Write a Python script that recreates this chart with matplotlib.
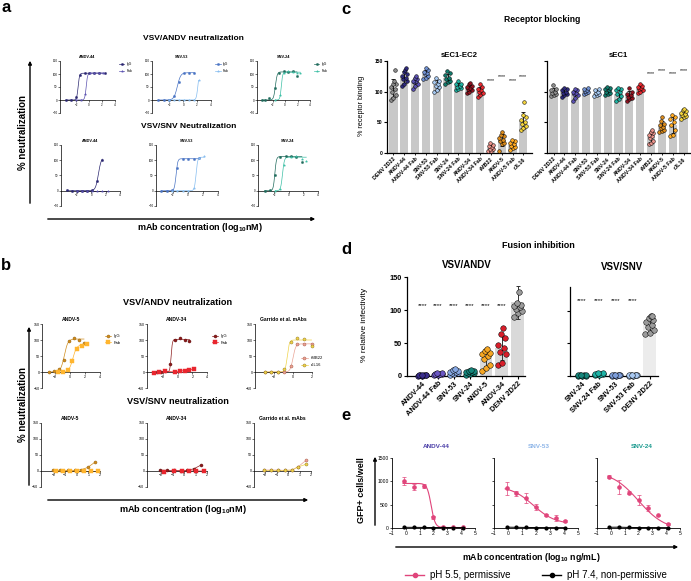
import matplotlib
matplotlib.use("Agg")
import matplotlib.pyplot as plt
from matplotlib.lines import Line2D
from matplotlib.patches import FancyArrowPatch
import numpy as np

plt.rcParams['font.family'] = ['Liberation Sans', 'DejaVu Sans']
plt.rcParams['mathtext.fontset'] = 'custom'
plt.rcParams['mathtext.rm'] = 'Liberation Sans'
plt.rcParams['mathtext.bf'] = 'Liberation Sans:bold'
plt.rcParams['mathtext.default'] = 'bf'

# ---------------- panel a : x = log10 nM, y = % neutralization ----------------
# fit = [bottom, top, logEC50, hill] of the curve drawn through the points
a1_andv44_igg_x = [-3.6, -2.8, -2.0, -1.4, -0.6, 0.05, 0.8, 1.5, 2.4]
a1_andv44_igg_y = [0, 0, 12, 97, 103, 103, 104, 103, 104]
a1_andv44_igg_fit = [0, 103, -1.7, 4]
a1_andv44_fab_x = [-2.0, -1.3, -0.6, 0.1, 0.8, 1.5, 2.2]
a1_andv44_fab_y = [0, 0, 22, 103, 104, 103, 104]
a1_andv44_fab_fit = [0, 104, -0.45, 4]

a1_snv53_igg_x = [-3.6, -2.7, -2.0, -1.4, -0.65, 0.1, 0.9, 1.6]
a1_snv53_igg_y = [0, 0, 0, 15, 68, 103, 105, 104]
a1_snv53_igg_fit = [0, 105, -0.85, 1.8]
a1_snv53_fab_x = [-2.0, -1.3, -0.6, 0.1, 0.8, 1.5, 2.2]
a1_snv53_fab_y = [0, 0, 0, 0, 0, 1, 76]
a1_snv53_fab_fit = [0, 105, 2.1, 4]

a1_snv24_igg_x = [-3.7, -3.2, -2.5, -1.6, -0.9, -0.2, 0.5, 1.2, 1.9]
a1_snv24_igg_y = [0, 0, 8, 45, 105, 110, 108, 110, 92]
a1_snv24_igg_fit = [0, 108, -1.55, 3]
a1_snv24_fab_x = [-1.6, -0.8, -0.2, 0.5, 1.2, 1.9, 2.4]
a1_snv24_fab_y = [0, 18, 105, 110, 108, 105, 103]
a1_snv24_fab_fit = [0, 107, -0.6, 4]

a2_andv44_igg_x = [-3.4, -2.7, -2.0, -1.3, -0.6, 0.15, 0.85, 1.55]
a2_andv44_igg_y = [2, 0, 0, 0, 0, 3, 33, 100]
a2_andv44_igg_fit = [0, 110, 1.0, 2.2]
a2_andv44_fab_x = [-2.0, -1.3, -0.6, 0.15, 0.85, 1.55, 2.3]
a2_andv44_fab_y = [0, 0, 0, 0, 0, 0, 0]

a2_snv53_igg_x = [-3.5, -2.8, -2.1, -1.4, -0.65, 0.05, 0.8, 1.5]
a2_snv53_igg_y = [0, 0, 2, 73, 105, 103, 103, 108]
a2_snv53_igg_fit = [0, 105, -1.55, 4]
a2_snv53_fab_x = [-2.1, -1.4, -0.65, 0.05, 0.8, 1.5, 2.2]
a2_snv53_fab_y = [0, 0, 0, 0, 10, 108, 113]
a2_snv53_fab_fit = [0, 110, 1.1, 4]

a2_snv24_igg_x = [-3.3, -2.5, -1.85, -1.15, -0.4, 0.35, 1.05, 1.8]
a2_snv24_igg_y = [0, 3, 52, 110, 113, 115, 112, 93]
a2_snv24_igg_fit = [0, 112, -1.9, 4]
a2_snv24_fab_x = [-1.85, -1.15, -0.6, 0.35, 1.05, 1.8, 2.4]
a2_snv24_fab_y = [0, 5, 85, 110, 113, 105, 97]
a2_snv24_fab_fit = [0, 110, -0.85, 3.5]

# ---------------- panel b ----------------
b1_andv5_igg_x = [-2.9, -2.2, -1.55, -0.9, -0.2, 0.45, 1.2, 1.85]
b1_andv5_igg_y = [0, 3, 10, 36, 98, 107, 100, 91]
b1_andv5_igg_fit = [0, 103, -0.8, 1.8]
b1_andv5_fab_x = [-1.7, -1.0, -0.35, 0.2, 0.9, 1.55, 2.3]
b1_andv5_fab_y = [0, 0, 5, 33, 73, 80, 86]
b1_andv5_fab_fit = [0, 85, 0.35, 1.7]

b1_andv34_igg_x = [-2.9, -2.3, -1.7, -1.0, -0.35, 0.27, 0.93, 1.6]
b1_andv34_igg_y = [0, 0, 3, 25, 100, 106, 101, 96]
b1_andv34_igg_fit = [0, 102, -0.9, 5]
b1_andv34_fab_x = [-3.2, -2.5, -1.7, -0.35, 0.27, 0.93, 1.6, 2.2]
b1_andv34_fab_y = [-3, 0, 2, 0, 3, 4, 7, 9]

b1_garrido_x = [-3.0, -2.3, -1.6, -0.9, -0.25, 0.43, 1.15, 1.95]
b1_rmb22_y = [0, 0, 0, 0, 18, 87, 88, 86]
b1_rmb22_fit = [0, 88, 0.0, 3]
b1_rjl16_y = [0, 0, 0, 8, 94, 107, 103, 80]
b1_rjl16_fit = [0, 100, -0.6, 4]

b2_andv5_igg_x = [-2.1, -1.45, -0.8, -0.2, 0.37, 0.93, 1.58]
b2_andv5_igg_y = [3, 2, 2, 2, 4, 11, 28]
b2_andv5_fab_x = [-1.8, -1.2, -0.6, 0.0, 0.6, 1.2, 1.8]
b2_andv5_fab_y = [0, 0, 0, 0, 0, 0, 0]

b2_andv34_igg_x = [-2.1, -1.5, -0.9, -0.3, 0.25, 0.85, 1.45]
b2_andv34_igg_y = [3, 2, 2, 1, 2, 7, 18]
b2_andv34_fab_x = [-1.8, -0.9, -0.15, 0.4, 1.0, 1.7]
b2_andv34_fab_y = [-2, 0, 0, 0, 0, 0]

b2_garrido_x = [-2.1, -1.5, -0.9, -0.3, 0.33, 0.9, 1.55]
b2_rmb22_y = [3, 3, 3, 2, 3, 14, 33]
b2_rjl16_y = [2, 2, 2, 2, 3, 13, 21]

# ---------------- panel c : % receptor binding ----------------
c_names = ['DENV 2D22', 'ANDV-44', 'ANDV-44 Fab', 'SNV-53', 'SNV-53 Fab', 'SNV-24',
           'SNV-24 Fab', 'ANDV-34', 'ANDV-34 Fab', 'rMB22', 'ANDV-5', 'ANDV-5 Fab', 'rJL16']
c_colors = ['#8c8c8c', '#2e2a7c', '#5a4fb0', '#6f8fd0', '#a6c8f0', '#127a6c', '#1fb0a0',
            '#8e1420', '#e62a30', '#e8928a', '#d98a1c', '#ffaa22', '#f2d23c']
c_ec12 = [[135, 118, 112, 108, 105, 100, 95, 90, 87, 112],
          [138, 135, 132, 128, 125, 122, 120, 117, 113, 110],
          [126, 122, 120, 118, 117, 115, 113, 110, 105],
          [138, 135, 132, 130, 128, 125, 123, 120],
          [122, 118, 115, 112, 110, 107, 103, 100],
          [133, 130, 127, 123, 120, 117, 115, 112],
          [117, 113, 112, 110, 108, 106, 104, 103],
          [114, 112, 110, 108, 106, 104, 102, 100, 98],
          [112, 108, 104, 102, 100, 98, 95, 92],
          [16, 13, 11, 9, 7, 6, 4, 3],
          [34, 30, 27, 24, 22, 20, 17, 14, 3],
          [22, 20, 17, 14, 12, 10, 8, 5],
          [83, 62, 58, 53, 50, 47, 44, 40, 37]]
c_ec1 = [[111, 105, 102, 100, 98, 97, 95, 93],
         [106, 104, 102, 100, 98, 96, 94, 92],
         [105, 102, 100, 98, 96, 94, 90, 85],
         [106, 104, 102, 101, 100, 98, 97],
         [104, 102, 100, 98, 97, 95, 93],
         [108, 106, 104, 102, 100, 98, 96, 95],
         [106, 104, 102, 100, 96, 93, 88, 85],
         [106, 100, 97, 94, 92, 90, 88, 85],
         [113, 110, 108, 106, 104, 102, 100, 98],
         [38, 34, 32, 30, 28, 24, 20, 16, 14],
         [58, 52, 48, 45, 43, 40, 38, 36, 34],
         [62, 58, 55, 50, 46, 38, 30, 28],
         [72, 70, 68, 66, 64, 62, 60, 58, 56]]
c_star_idx = [9, 10, 11, 12]
c_star_ec12 = [118, 124, 118, 124]
c_star_ec1 = [129, 135, 129, 135]

# ---------------- panel d : % relative infectivity ----------------
d_andv_names = ['ANDV-44', 'ANDV-44 Fab', 'SNV-53', 'SNV-24', 'ANDV-5', 'ANDV-34', 'DENV 2D22']
d_andv_colors = ['#3a2e8c', '#6b58c4', '#86a8e4', '#15857a', '#f5a623', '#d81e2a', '#9b9b9b']
d_andv_vals = [[2, 1, 1, 0, 0, 1, 2, 1],
               [4, 3, 3, 2, 3, 4, 2, 3],
               [11, 9, 7, 6, 5, 4, 3, 2, 6],
               [9, 8, 7, 6, 5, 4, 3, 2, 6],
               [41, 38, 35, 33, 30, 26, 17, 12, 8],
               [72, 63, 58, 47, 42, 37, 33, 20, 16],
               [175, 127, 110, 108, 106, 104, 101, 98, 95, 90]]
d_snv_names = ['SNV-24', 'SNV-24 Fab', 'SNV-53', 'SNV-53 Fab', 'DENV 2D22']
d_snv_colors = ['#15857a', '#1fb3a6', '#7e9fdc', '#a9c9f2', '#9b9b9b']
d_snv_vals = [[2, 1, 1, 0, 0, 1, 1, 0],
              [4, 3, 3, 3, 2, 4, 3, 2],
              [2, 1, 1, 0, 1, 2, 1, 0],
              [2, 1, 1, 0, 1, 1, 0, 1],
              [92, 91, 88, 85, 82, 78, 75, 70, 65, 64]]
d_andv_star = 106
d_snv_star = 116

# ---------------- panel e : GFP+ cells/well vs log10 ng/mL ----------------
e_x = [-0.1, 0.6, 1.3, 2.0, 2.7, 3.4, 4.1]
e_andv44_y = [1010, 880, 900, 230, 30, 20, 15]
e_andv44_err = [80, 70, 50, 30, 10, 8, 5]
e_andv44_fit = [10, 955, 1.83, -3]
e_snv53_y = [850, 740, 640, 450, 280, 220, 150]
e_snv53_err = [140, 50, 100, 70, 20, 60, 20]
e_snv53_fit = [80, 900, 1.8, -0.55]
e_snv24_y = [1100, 870, 760, 600, 430, 270, 90]
e_snv24_err = [30, 150, 40, 100, 70, 15, 15]
e_snv24_fit = [-50, 1220, 2.0, -0.45]
e_ph74_andv44 = [15, 14, 12, 10, 10, 9, 8]
e_ph74_snv53 = [18, 15, 12, 10, 9, 8, 8]
e_ph74_snv24 = [16, 18, 12, 10, 10, 9, 8]

PINK = '#e0457b'

W, H = 691, 581
fig = plt.figure(figsize=(W / 100, H / 100), dpi=100)


def box(x0, y0, x1, y1):
    return fig.add_axes([x0 / W, 1 - y1 / H, (x1 - x0) / W, (y1 - y0) / H])


def txt(x, y, s, size, **kw):
    kw.setdefault('ha', 'center')
    kw.setdefault('va', 'center')
    fig.text(x / W, 1 - y / H, s, fontsize=size, **kw)


def arrow(x0, y0, x1, y1, lw=1.0):
    fig.add_artist(FancyArrowPatch((x0 / W, 1 - y0 / H), (x1 / W, 1 - y1 / H),
                                   transform=fig.transFigure, arrowstyle='-|>',
                                   mutation_scale=5, lw=lw, color='black'))


def logistic(x, bottom, top, ec50, hill):
    return bottom + (top - bottom) / (1 + 10 ** ((ec50 - x) * hill))


def neut_plot(px, title, series, xlim, xticks, tsize, ticksize, ms, leg=None, legsize=2.4):
    ax = box(*px)
    ax.patch.set_visible(False)
    for lab, x, y, col, edge, mk, fit in series:
        x = np.asarray(x, float)
        if fit is None:
            ax.plot(x, y, color=col, lw=0.5, zorder=2)
        else:
            xs = np.linspace(x.min(), x.max(), 200)
            ax.plot(xs, logistic(xs, *fit), color=col, lw=0.5, zorder=2)
        ax.plot(x, y, ls='none', marker=mk, ms=ms, mfc=col, mec=edge, mew=0.3,
                zorder=3, clip_on=False)
    ax.set_xlim(xlim)
    ax.set_ylim(-50, 150)
    ax.set_xticks(xticks)
    ax.set_yticks([-50, 0, 50, 100, 150])
    ax.spines['bottom'].set_position(('data', 0))
    ax.spines[['top', 'right']].set_visible(False)
    for sp in ax.spines.values():
        sp.set_linewidth(0.5)
    ax.tick_params(labelsize=ticksize, width=0.4, length=1.2, pad=0.6)
    ax.set_title(title, fontsize=tsize, fontweight='bold', pad=2)
    if leg is not None:
        handles = [Line2D([], [], color=s[3], marker=s[5], ms=ms, mfc=s[3], mec=s[4],
                          mew=0.3, lw=0.5) for s in series]
        ax.legend(handles, [s[0] for s in series], loc='upper left', bbox_to_anchor=leg,
                  fontsize=legsize, frameon=False, handlelength=1.6, handletextpad=0.6,
                  labelspacing=0.7, borderaxespad=0)
    return ax


JIT = [-0.3, 0.0, 0.3, -0.15, 0.15, -0.28, 0.28, -0.05, 0.08, 0.2]


def swarm_bars(ax, groups, colors, bar_colors, ms, width, elw, ecol):
    top = ax.get_ylim()[1]
    for i, vals in enumerate(groups):
        v = np.sort(np.asarray(vals, float))
        m, sd = v.mean(), v.std(ddof=1)
        ax.bar(i, m, width=width, color=bar_colors[i], zorder=1)
        ax.errorbar(i, m, yerr=sd, fmt='none', ecolor=ecol, elinewidth=elw,
                    capsize=1.5, capthick=elw, zorder=2, clip_on=False)
        off = np.resize(JIT, len(v)) * width
        keep = v <= top
        ax.scatter(i + off[keep], v[keep], s=ms, color=colors[i], edgecolors='black',
                   linewidths=0.35, zorder=3, clip_on=False)


# ================= panel a =================
txt(1, 8, 'a', 12, fontweight='bold', ha='left')
txt(193, 39, 'VSV/ANDV neutralization', 6, fontweight='bold')
txt(189, 126, 'VSV/SNV Neutralization', 6, fontweight='bold')
txt(23, 132, '% neutralization', 7, fontweight='bold', rotation=90)
txt(200, 228, 'mAb concentration (log$_{10}$nM)', 6.5, fontweight='bold')
arrow(30, 206, 30, 58)
arrow(45, 219, 318, 219)

ANDV44_C = ('#2a2670', '#5b52b0')
SNV53_C = ('#4a74c4', '#86bdf0')
SNV24_C = ('#1f6b5c', '#3cbfa5')
sa = dict(tsize=2.8, ticksize=2.2, ms=1.6)
neut_plot((60, 61, 115, 113), 'ANDV-44',
          [('IgG', a1_andv44_igg_x, a1_andv44_igg_y, ANDV44_C[0], ANDV44_C[0], 'o', a1_andv44_igg_fit),
           ('Fab', a1_andv44_fab_x, a1_andv44_fab_y, ANDV44_C[1], ANDV44_C[1], '*', a1_andv44_fab_fit)],
          (-4.5, 4), [-2, 0, 2, 4], leg=(1.05, 1.0), **sa)
neut_plot((152, 61, 211, 113), 'SNV-53',
          [('IgG', a1_snv53_igg_x, a1_snv53_igg_y, SNV53_C[0], SNV53_C[0], 'o', a1_snv53_igg_fit),
           ('Fab', a1_snv53_fab_x, a1_snv53_fab_y, SNV53_C[1], SNV53_C[1], '*', a1_snv53_fab_fit)],
          (-4.5, 4), [-2, 0, 2, 4], leg=(1.05, 1.0), **sa)
neut_plot((257, 61, 310, 113), 'SNV-24',
          [('IgG', a1_snv24_igg_x, a1_snv24_igg_y, SNV24_C[0], SNV24_C[0], 'o', a1_snv24_igg_fit),
           ('Fab', a1_snv24_fab_x, a1_snv24_fab_y, SNV24_C[1], SNV24_C[1], '*', a1_snv24_fab_fit)],
          (-4.5, 4), [-2, 0, 2, 4], leg=(1.05, 1.0), **sa)
neut_plot((61, 145, 120, 206), 'ANDV-44',
          [('IgG', a2_andv44_igg_x, a2_andv44_igg_y, ANDV44_C[0], ANDV44_C[0], 'o', a2_andv44_igg_fit),
           ('Fab', a2_andv44_fab_x, a2_andv44_fab_y, ANDV44_C[1], ANDV44_C[1], '*', None)],
          (-4.2, 4), [-2, 0, 2, 4], **sa)
neut_plot((156, 145, 218, 206), 'SNV-53',
          [('IgG', a2_snv53_igg_x, a2_snv53_igg_y, SNV53_C[0], SNV53_C[0], 'o', a2_snv53_igg_fit),
           ('Fab', a2_snv53_fab_x, a2_snv53_fab_y, SNV53_C[1], SNV53_C[1], '*', a2_snv53_fab_fit)],
          (-4.2, 4), [-2, 0, 2, 4], **sa)
neut_plot((258, 145, 318, 206), 'SNV-24',
          [('IgG', a2_snv24_igg_x, a2_snv24_igg_y, SNV24_C[0], SNV24_C[0], 'o', a2_snv24_igg_fit),
           ('Fab', a2_snv24_fab_x, a2_snv24_fab_y, SNV24_C[1], SNV24_C[1], '*', a2_snv24_fab_fit)],
          (-4.2, 4), [-2, 0, 2, 4], **sa)

# ================= panel b =================
txt(1, 266, 'b', 12, fontweight='bold', ha='left')
txt(178, 303, 'VSV/ANDV neutralization', 6.6, fontweight='bold')
txt(178, 401, 'VSV/SNV neutralization', 6.6, fontweight='bold')
txt(23, 404, '% neutralization', 7, fontweight='bold', rotation=90)
txt(183, 509, 'mAb concentration (log$_{10}$nM)', 6.6, fontweight='bold')
arrow(29, 488, 29, 324)
arrow(45, 500, 311, 500)

ANDV5_C = ('#d08c1c', '#ffb52e', '#8a5a10')
ANDV34_C = ('#8c1c1c', '#e8262e', '#5a0c0c')
RMB22_C = ('#eaa394', '#a0503f')
RJL16_C = ('#efd34a', '#8a7020')
sb = dict(tsize=3.6, ticksize=2.6, ms=2.2)
neut_plot((42, 324, 100, 388), 'ANDV-5',
          [('IgG', b1_andv5_igg_x, b1_andv5_igg_y, ANDV5_C[0], ANDV5_C[2], 'o', b1_andv5_igg_fit),
           ('Fab', b1_andv5_fab_x, b1_andv5_fab_y, ANDV5_C[1], ANDV5_C[1], 's', b1_andv5_fab_fit)],
          (-3.8, 4), [-2, 0, 2, 4], leg=(1.05, 0.87), legsize=3.0, **sb)
neut_plot((147, 324, 207, 388), 'ANDV-34',
          [('IgG', b1_andv34_igg_x, b1_andv34_igg_y, ANDV34_C[0], ANDV34_C[2], 'o', b1_andv34_igg_fit),
           ('Fab', b1_andv34_fab_x, b1_andv34_fab_y, ANDV34_C[1], ANDV34_C[1], 's', None)],
          (-4.2, 4), [-2, 0, 2, 4], leg=(1.05, 0.87), legsize=3.0, **sb)
neut_plot((255, 324, 312, 388), 'Garrido et al. mAbs',
          [('rMB22', b1_garrido_x, b1_rmb22_y, RMB22_C[0], RMB22_C[1], 'o', b1_rmb22_fit),
           ('rJL16', b1_garrido_x, b1_rjl16_y, RJL16_C[0], RJL16_C[1], 'o', b1_rjl16_fit)],
          (-4, 2), [-2, 0, 2], leg=(0.78, 0.52), legsize=3.0, **sb)
neut_plot((41, 423, 100, 487), 'ANDV-5',
          [('IgG', b2_andv5_igg_x, b2_andv5_igg_y, ANDV5_C[0], ANDV5_C[2], 'o', None),
           ('Fab', b2_andv5_fab_x, b2_andv5_fab_y, ANDV5_C[1], ANDV5_C[1], 's', None)],
          (-3.1, 2), [-2, -1, 0, 1, 2], **sb)
neut_plot((147, 423, 207, 487), 'ANDV-34',
          [('IgG', b2_andv34_igg_x, b2_andv34_igg_y, ANDV34_C[0], ANDV34_C[2], 'o', None),
           ('Fab', b2_andv34_fab_x, b2_andv34_fab_y, ANDV34_C[1], ANDV34_C[1], 's', None)],
          (-3.25, 2), [-2, -1, 0, 1, 2], **sb)
neut_plot((254, 423, 311, 487), 'Garrido et al. mAbs',
          [('rMB22', b2_garrido_x, b2_rmb22_y, RMB22_C[0], RMB22_C[1], 'o', None),
           ('rJL16', b2_garrido_x, b2_rjl16_y, RJL16_C[0], RJL16_C[1], 'o', None)],
          (-3.0, 2), [-2, -1, 0, 1, 2], **sb)

# ================= panel c =================
txt(341, 9, 'c', 12, fontweight='bold', ha='left')
txt(542, 20, 'Receptor blocking', 6.2, fontweight='bold')
txt(362, 106, '% receptor binding', 5.2, rotation=90)

for px, vals, title, xmax, stars, ylabels in [((387, 61, 532, 153), c_ec12, 'sEC1-EC2', 12.8, c_star_ec12, True),
                                             ((547, 61, 690, 153), c_ec1, 'sEC1', 12.6, c_star_ec1, False)]:
    ax = box(*px)
    ax.patch.set_visible(False)
    ax.set_ylim(0, 150)
    ax.set_xlim(-0.6, xmax)
    swarm_bars(ax, vals, c_colors, ['#c8c8c8'] * len(vals), 7, 0.76, 0.6, 'black')
    for i, h in zip(c_star_idx, stars):
        ax.text(i, h, '****', fontsize=3.8, ha='center', va='center')
    ax.set_yticks([0, 50, 100, 150])
    if not ylabels:
        ax.set_yticklabels([])
    ax.set_xticks(range(len(c_names)))
    ax.set_xticklabels(c_names, rotation=45, ha='right', rotation_mode='anchor',
                       fontsize=3.9, fontweight='bold')
    ax.spines[['top', 'right']].set_visible(False)
    for sp in ax.spines.values():
        sp.set_linewidth(0.9)
    ax.tick_params(axis='y', labelsize=3.6, width=0.8, length=2, pad=1)
    ax.tick_params(axis='x', width=0.6, length=1.5, pad=1)
    for t in ax.get_yticklabels():
        t.set_fontweight('bold')
    ax.set_title(title, fontsize=5.6, fontweight='bold', pad=3)

# ================= panel d =================
txt(341, 249, 'd', 12, fontweight='bold', ha='left')
txt(538, 246, 'Fusion inhibition', 6.5, fontweight='bold')
txt(467, 265, 'VSV/ANDV', 7, fontweight='bold')
txt(622, 267, 'VSV/SNV', 7, fontweight='bold')
txt(365, 325, '% relative infectivity', 6, rotation=90)

for px, vals, names, colors, bars, xlim, ytop, star, ylabels in [
        ((407, 277, 525, 376), d_andv_vals, d_andv_names, d_andv_colors, ['#d9d9d9'] * 7,
         (-0.95, 6.45), 150, d_andv_star, True),
        ((570, 287, 658, 376), d_snv_vals, d_snv_names, d_snv_colors, ['#d9d9d9'] * 4 + ['#ececec'],
         (-0.7, 4.5), 136, d_snv_star, False)]:
    ax = box(*px)
    ax.patch.set_visible(False)
    ax.set_ylim(0, ytop)
    ax.set_xlim(xlim)
    swarm_bars(ax, vals, colors, bars, 16, 0.8, 0.7, '#333333')
    for i in range(len(names) - 1):
        ax.text(i, star, '****', fontsize=4.5, ha='center', va='center')
    ax.set_yticks([0, 50, 100, 150] if ylabels else [0, 50, 100])
    if not ylabels:
        ax.set_yticklabels([])
    ax.set_xticks(range(len(names)))
    ax.set_xticklabels(names, rotation=45, ha='right', rotation_mode='anchor',
                       fontsize=5.3, fontweight='bold')
    ax.spines[['top', 'right']].set_visible(False)
    for sp in ax.spines.values():
        sp.set_linewidth(0.9)
    ax.tick_params(axis='y', labelsize=5.3, width=0.8, length=2.5, pad=1.5)
    ax.tick_params(axis='x', width=0.8, length=2, pad=1)
    for t in ax.get_yticklabels():
        t.set_fontweight('bold')

# ================= panel e =================
txt(341, 415, 'e', 12, fontweight='bold', ha='left')
txt(362, 490, 'GFP+ cells/well', 6.5, fontweight='bold', rotation=90)
txt(531, 557, 'mAb concentration (log$_{10}$ ng/mL)', 6.3, fontweight='bold')
arrow(375, 528, 375, 454)
arrow(393, 547, 681, 547)

for k, (px, title, tcol, y, err, fit, y74) in enumerate([
        ((392, 458, 475, 528), 'ANDV-44', '#4b3fa8', e_andv44_y, e_andv44_err, e_andv44_fit, e_ph74_andv44),
        ((494, 458, 578, 528), 'SNV-53', '#8fb6e8', e_snv53_y, e_snv53_err, e_snv53_fit, e_ph74_snv53),
        ((597, 458, 680, 528), 'SNV-24', '#1b9a8f', e_snv24_y, e_snv24_err, e_snv24_fit, e_ph74_snv24)]):
    ax = box(*px)
    ax.patch.set_visible(False)
    xs = np.linspace(min(e_x) - 0.1, max(e_x), 200)
    ax.plot(xs, logistic(xs, *fit), color=PINK, lw=0.8, zorder=2)
    ax.errorbar(e_x, y, yerr=err, fmt='o', ms=2.3, color=PINK, elinewidth=0.5,
                capsize=1.3, capthick=0.5, zorder=3, clip_on=False)
    ax.plot(e_x, y74, color='black', marker='o', ms=2.0, lw=0.7, zorder=4, clip_on=False)
    ax.set_xlim(-1, 5)
    ax.set_ylim(0, 1500)
    ax.set_xticks(range(-1, 6))
    ax.set_yticks([0, 500, 1000, 1500])
    if k > 0:
        ax.set_yticklabels([])
    ax.spines[['top', 'right']].set_visible(False)
    for sp in ax.spines.values():
        sp.set_linewidth(0.6)
    ax.tick_params(labelsize=3.6, width=0.5, length=1.5, pad=1)
    txt((px[0] + px[2]) / 2 + 3, 446, title, 4.6, fontweight='bold', color=tcol)

handles = [Line2D([], [], color=PINK, marker='o', ms=3, lw=1),
           Line2D([], [], color='black', marker='o', ms=3, lw=1)]
fig.legend(handles, ['pH 5.5, permissive', 'pH 7.4, non-permissive'], loc='center',
           bbox_to_anchor=(536 / W, 1 - 575 / H), ncol=2, frameon=False, fontsize=7,
           handlelength=2.0, columnspacing=3.2, handletextpad=0.6, borderaxespad=0)

fig.savefig('out.png', dpi=100)
